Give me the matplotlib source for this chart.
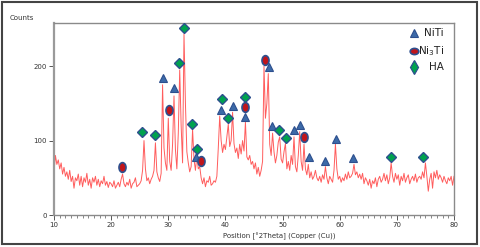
import numpy as np
import matplotlib
matplotlib.use("Agg")
import matplotlib.pyplot as plt
from matplotlib.path import Path
from matplotlib.transforms import Affine2D
from matplotlib.patches import Rectangle

# ---- data ----
two_theta_start = 10.0
two_theta_step = 0.25
counts = [
    58, 80, 68, 74,   62, 70, 55, 64,   52, 58, 48, 60,   45, 52, 36, 50,   # 10-13
    46, 55, 40, 52,   38, 50, 44, 56,   40, 48, 36, 50,   44, 52, 40, 48,   # 14-17
    38, 46, 42, 52,   40, 45, 37, 44,   42, 38, 46, 36,   40, 44, 38, 48,   # 18-21
    55, 42, 38, 44,   40, 48, 36, 42,   44, 50, 38, 40,   42, 46, 60, 100,  # 22-25
    62, 46, 50, 42,   48, 52, 60, 97,   58, 50, 45, 56,   175, 90, 70, 60,  # 26-29
    130, 72, 60, 95,  160, 88, 62, 110, 195, 120, 70, 243, 150, 85, 70, 58, # 30-33
    65, 115, 75, 60,  80, 62, 65, 50,   42, 50, 38, 46,   44, 52, 40, 42,   # 34-37
    46, 44, 52, 90,   133, 100, 84, 95, 88, 105, 122, 92, 100, 138, 96, 84, # 38-41
    90, 76, 95, 82,   100, 86, 125, 78, 74, 80, 68, 72,   62, 70, 55, 64,   # 42-45
    52, 60, 72, 200,  130, 150, 190, 95, 80, 110, 85, 70, 80, 98, 105, 75,  # 46-49
    70, 85, 96, 62,   72, 60, 80, 68,   105, 65, 58, 80,  112, 72, 60, 95,  # 50-53
    62, 54, 68, 50,   58, 48, 52, 60,   50, 46, 52, 44,   54, 48, 65, 50,   # 54-57
    42, 52, 48, 44,   60, 95, 62, 48,   52, 44, 50, 46,   55, 48, 58, 50,   # 58-61
    52, 56, 68, 54,   58, 50, 55, 48,   56, 42, 50, 46,   40, 48, 36, 46,   # 62-65
    42, 50, 38, 48,   52, 44, 48, 56,   46, 54, 42, 50,   70, 52, 44, 56,   # 66-69
    48, 54, 40, 52,   46, 56, 44, 50,   54, 42, 48, 52,   46, 55, 44, 50,   # 70-73
    52, 48, 58, 50,   70, 52, 32, 48,   56, 36, 58, 50,   60, 48, 54, 50,   # 74-77
    44, 52, 46, 42,   50, 46, 52, 40,   52,                                   # 78-80
]

niti_x = [29.0, 31.0, 34.9, 39.2, 41.3, 43.5, 47.55, 48.2, 52.0, 53.05, 54.6, 57.4, 59.35, 62.3]
niti_y = [184, 171, 78, 141, 146, 132, 199, 119, 114, 121, 78, 73, 102, 77]

ni3ti_x = [21.85, 30.1, 35.65, 43.5, 46.85, 53.75]
ni3ti_y = [65, 141, 72, 145, 208, 105]

ha_x = [25.45, 27.7, 31.95, 32.8, 34.2, 35.1, 39.45, 40.45, 43.4, 49.3, 50.55, 69.0, 74.6]
ha_y = [111, 107, 204, 251, 122, 89, 156, 130, 159, 114, 104, 78, 78]

legend_labels = ["NiTi", "Ni$_3$Ti", "HA"]
x_ticks = [10, 20, 30, 40, 50, 60, 70, 80]
y_ticks = [0, 100, 200]

# ---- figure ----
W, H = 480, 247
fig = plt.figure(figsize=(W / 100, H / 100), dpi=100)
ax = fig.add_axes([54 / W, 1 - 215 / H, 400 / W, (215 - 23) / H])

x = two_theta_start + two_theta_step * np.arange(len(counts))
ax.plot(x, counts, color="#ff4040", lw=0.7, alpha=0.85, zorder=2)

ell = Path.unit_circle().transformed(Affine2D().scale(0.72, 1.0))
edge = "#2d4f8e"
ax.plot(niti_x, niti_y, ls="none", marker="^", ms=6.2, mfc="#3c6aa8", mec=edge, mew=0.8, zorder=3)
ax.plot(ni3ti_x, ni3ti_y, ls="none", marker=ell, ms=7.0, mfc="#c0151b", mec=edge, mew=1.2, zorder=3)
ax.plot(ha_x, ha_y, ls="none", marker="D", ms=5.3, mfc="#00a24f", mec=edge, mew=1.0, zorder=4)

ax.set_xlim(10, 80)
ax.set_ylim(0, 258)
ax.set_xticks(x_ticks)
ax.set_xticks(np.arange(10, 81, 1), minor=True)
ax.set_yticks(y_ticks)
ax.tick_params(axis="both", which="major", labelsize=5, length=3.5, width=0.7,
               color="#555555", labelcolor="#333333", pad=1.5)
ax.tick_params(axis="x", which="minor", length=1.8, width=0.5, color="#555555")
for s in ["top", "right", "bottom"]:
    ax.spines[s].set_color("#8a8a8a")
    ax.spines[s].set_linewidth(1.0)
ax.spines["left"].set_color("#9a9a9a")
ax.spines["left"].set_linewidth(1.6)

fig.text(10 / W, 1 - 18 / H, "Counts", fontsize=5, color="#333333", va="center", ha="left")
fig.text(223 / W, 1 - 236 / H, "Position [°2Theta] (Copper (Cu))", fontsize=5,
         color="#333333", va="center", ha="left")

# legend (manual)
leg_y = [33, 51, 67]
leg_markers = [dict(marker="^", ms=6.2, mfc="#3c6aa8", mec=edge, mew=0.8),
               dict(marker=Path.unit_circle().transformed(Affine2D().scale(1.0, 0.72)), ms=6.2,
                    mfc="#c0151b", mec=edge, mew=1.2),
               dict(marker="d", ms=6.8, mfc="#00a24f", mec=edge, mew=0.9)]
for lab, yy, mk in zip(legend_labels, leg_y, leg_markers):
    ax.plot([414 / W], [1 - yy / H], ls="none", transform=fig.transFigure, clip_on=False, **mk)
    fig.text(444 / W, 1 - yy / H, lab, fontsize=7.5, color="#222222", ha="right", va="center")

# outer frame
fig.patches.append(Rectangle((2 / W, 3 / H), 475 / W, 242 / H, transform=fig.transFigure,
                             fill=False, ec="#444444", lw=1.5))

fig.savefig("out.png", dpi=100)
